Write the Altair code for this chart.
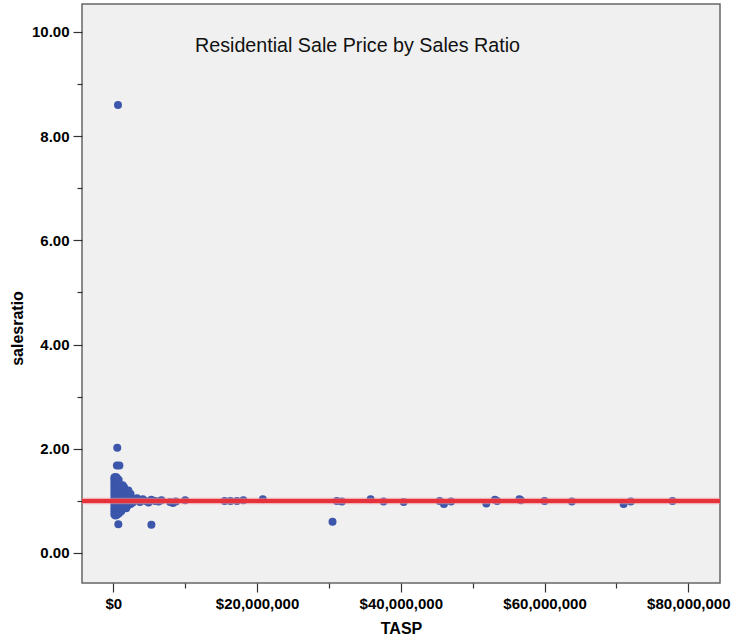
import altair as alt
import pandas as pd

# Dense block of ordinary residential sales (TASP in dollars, sales ratio)
core_tasp = (
    [150000] * 13 + [300000] * 13 + [450000] * 13 + [600000] * 12
    + [750000] * 9 + [900000] * 7 + [1100000] * 6 + [1300000] * 6
    + [1500000] * 5 + [1800000] * 5 + [2100000] * 4 + [2400000] * 3
)
core_ratio = [
    0.74, 0.80, 0.86, 0.92, 0.98, 1.04, 1.10, 1.16, 1.22, 1.28, 1.34, 1.40, 1.45,
    0.72, 0.78, 0.84, 0.90, 0.96, 1.02, 1.08, 1.14, 1.20, 1.26, 1.32, 1.38, 1.46,
    0.73, 0.79, 0.85, 0.91, 0.97, 1.03, 1.09, 1.15, 1.21, 1.27, 1.33, 1.39, 1.45,
    0.75, 0.81, 0.87, 0.93, 0.99, 1.05, 1.11, 1.17, 1.23, 1.29, 1.35, 1.42,
    0.76, 0.84, 0.92, 1.00, 1.08, 1.16, 1.24, 1.32, 1.40,
    0.78, 0.88, 0.96, 1.04, 1.12, 1.20, 1.28,
    0.80, 0.92, 1.00, 1.08, 1.16, 1.24,
    0.86, 0.96, 1.04, 1.12, 1.20, 1.30,
    0.88, 0.98, 1.06, 1.14, 1.26,
    0.86, 0.94, 1.02, 1.10, 1.19,
    0.92, 1.00, 1.07, 1.20,
    0.94, 1.04, 1.13,
]

# Isolated low-priced outliers
outlier_tasp = [550000, 500000, 850000, 700000, 5300000, 650000]
outlier_ratio = [2.02, 1.68, 1.68, 0.55, 0.54, 8.60]

# Mid-priced sales trailing off along the 1.0 ratio
trail_tasp = [2700000, 3000000, 3300000, 3700000, 4100000, 4500000,
              4900000, 5300000, 5800000, 6300000, 6700000, 7900000, 8300000,
              8700000, 10000000, 15500000, 16300000, 17200000, 18100000, 20800000]
trail_ratio = [0.97, 1.02, 1.05, 0.98, 1.03, 1.00,
               0.97, 1.02, 1.00, 0.99, 1.01, 0.98, 0.96,
               0.99, 1.01, 1.00, 1.00, 1.00, 1.01, 1.03]

# High-value sales
high_tasp = [30500000, 31100000, 31800000, 35800000, 37600000, 40400000,
             45400000, 46000000, 47000000, 51900000, 53100000, 53400000,
             56500000, 56700000, 60000000, 63800000, 71000000, 72000000, 77800000]
high_ratio = [0.60, 1.00, 0.99, 1.03, 0.99, 0.98,
              1.00, 0.94, 0.99, 0.95, 1.02, 1.00,
              1.03, 1.01, 1.00, 0.99, 0.94, 0.99, 1.00]

reference_ratio = 1.0
x_ticks = [0, 10000000, 20000000, 30000000, 40000000, 50000000, 60000000, 70000000, 80000000]
y_ticks = [0, 1, 2, 3, 4, 5, 6, 7, 8, 9, 10]

sales = pd.DataFrame({
    "TASP": core_tasp + outlier_tasp + trail_tasp + high_tasp,
    "salesratio": core_ratio + outlier_ratio + trail_ratio + high_ratio,
})

FONT = "Liberation Sans, Arial, sans-serif"

x_scale = alt.Scale(domain=[-4355000, 84410000], nice=False, zero=False)
y_scale = alt.Scale(domain=[-0.576, 10.537], nice=False, zero=False)

x_axis = alt.Axis(
    values=x_ticks,
    format="$,.0f",
    labelExpr="datum.value % 20000000 === 0 ? datum.label : ''",
    tickSize={"condition": {"test": "datum.value % 20000000 === 0", "value": 9}, "value": 5},
    grid=False, domain=False, tickColor="#333333", tickWidth=1.2,
    labelFont=FONT, labelFontSize=15, labelFontWeight="bold", labelColor="#000000",
    labelPadding=4, labelFlush=False,
    title="TASP", titleFont=FONT, titleFontSize=16, titleFontWeight="bold",
    titleColor="#000000", titlePadding=9,
)
y_axis = alt.Axis(
    values=y_ticks,
    format=".2f",
    labelExpr="datum.value % 2 === 0 ? datum.label : ''",
    tickSize={"condition": {"test": "datum.value % 2 === 0", "value": 9}, "value": 5},
    grid=False, domain=False, tickColor="#333333", tickWidth=1.2,
    labelFont=FONT, labelFontSize=15, labelFontWeight="bold", labelColor="#000000",
    labelPadding=4,
    title="salesratio", titleFont=FONT, titleFontSize=16, titleFontWeight="bold",
    titleColor="#000000", titleX=-65, titleY=324, titleBaseline="middle",
)

points = alt.Chart(sales).mark_circle(size=64, opacity=1, color="#3b56ab").encode(
    x=alt.X("TASP:Q", scale=x_scale, axis=x_axis),
    y=alt.Y("salesratio:Q", scale=y_scale, axis=y_axis),
)

ref = pd.DataFrame({"salesratio": [reference_ratio]})
ref_glow = alt.Chart(ref).mark_rule(color="#f08a90", strokeWidth=6.5, opacity=0.6).encode(
    y=alt.Y("salesratio:Q", scale=y_scale)
)
ref_line = alt.Chart(ref).mark_rule(color="#e5323b", strokeWidth=4).encode(
    y=alt.Y("salesratio:Q", scale=y_scale)
)

title = alt.Chart(pd.DataFrame({"t": ["Residential Sale Price by Sales Ratio"]})).mark_text(
    align="left", baseline="alphabetic", font=FONT,
    fontSize=19.7, color="#111111",
).encode(text="t:N", x=alt.value(113), y=alt.value(48))

chart = alt.layer(points, ref_glow, ref_line, title).properties(
    width=638,
    height=579,
    autosize=alt.AutoSizeParams(type="none"),
    padding={"left": 82, "top": 4, "right": 11, "bottom": 57},
    background="#ffffff",
).configure_view(
    fill="#f0f0f0", stroke="#666666", strokeWidth=1.5,
)

chart.save("out.html", embed_options={"renderer": "svg", "actions": False})
